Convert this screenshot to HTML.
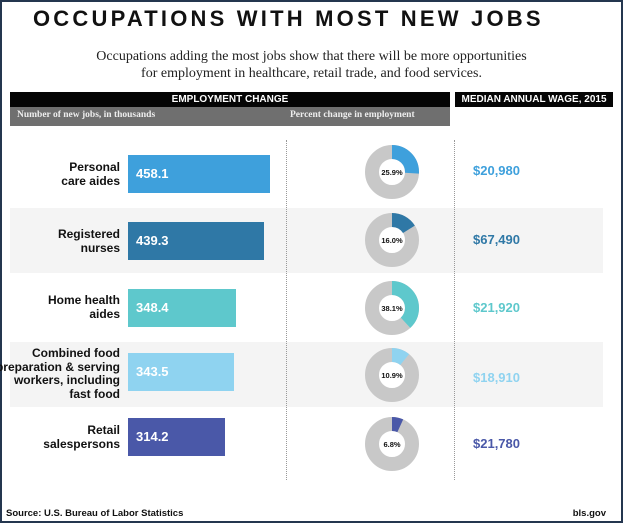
<!DOCTYPE html>
<html><head><style>
body{margin:0;width:623px;height:523px;overflow:hidden;background:#fff;font-family:"Liberation Sans",sans-serif}
.frame{position:absolute;left:0;top:0;width:619px;height:519px;border:2px solid #24364f;background:#fff}
.t{position:absolute;white-space:nowrap}
.bar{position:absolute;left:128px;height:38px;color:#fff;font-weight:bold;font-size:13px;line-height:38px;padding-left:8px;box-sizing:border-box}
.lab{position:absolute;right:503px;text-align:right;font-weight:bold;font-size:12px;line-height:13.5px;color:#111;white-space:nowrap}
.wage{position:absolute;left:473px;font-weight:bold;font-size:13px}
.rowbg{position:absolute;left:10px;width:593px;height:65px;background:#f4f4f4}
</style></head><body>
<div class="frame"></div>
<div class="t" style="left:33px;top:6px;font-size:22px;font-weight:bold;letter-spacing:3.2px;color:#111">OCCUPATIONS WITH MOST NEW JOBS</div>
<div class="t" style="left:0;width:623px;text-align:center;top:48px;font-family:'Liberation Serif',serif;font-size:14px;line-height:17px;color:#222">Occupations adding the most jobs show that there will be more opportunities<br>for employment in healthcare, retail trade, and food services.</div>
<div class="t" style="left:10px;top:92px;width:440px;height:15px;background:#050505;color:#fff;font-size:10px;font-weight:bold;text-align:center;line-height:15px">EMPLOYMENT CHANGE</div>
<div class="t" style="left:455px;top:92px;width:158px;height:15px;background:#050505;color:#fff;font-size:10px;font-weight:bold;text-align:center;line-height:15px">MEDIAN ANNUAL WAGE, 2015</div>
<div class="t" style="left:10px;top:107px;width:440px;height:19px;background:#6f6f6f;color:#eee;font-family:'Liberation Serif',serif;font-size:9.5px;font-weight:bold;line-height:17px">
<span style="position:absolute;left:7px">Number of new jobs, in thousands</span><span style="position:absolute;left:280px">Percent change in employment</span></div>
<div class="rowbg" style="top:208px"></div>
<div class="rowbg" style="top:342px"></div>
<div class="t" style="left:286px;top:140px;height:340px;border-left:1px dotted #999"></div>
<div class="t" style="left:454px;top:140px;height:340px;border-left:1px dotted #999"></div>

<div class="lab" style="top:161px">Personal<br>care aides</div>
<div class="bar" style="top:155px;width:142px;background:#3ea0dc">458.1</div>
<div class="wage" style="top:163px;color:#3ea0dc">$20,980</div>

<div class="lab" style="top:228px">Registered<br>nurses</div>
<div class="bar" style="top:222px;width:136px;background:#2f78a6">439.3</div>
<div class="wage" style="top:232px;color:#2f78a6">$67,490</div>

<div class="lab" style="top:294px">Home health<br>aides</div>
<div class="bar" style="top:289px;width:108px;background:#5ec8cc">348.4</div>
<div class="wage" style="top:300px;color:#5ec8cc">$21,920</div>

<div class="lab" style="top:347px">Combined food<br>preparation &amp; serving<br>workers, including<br>fast food</div>
<div class="bar" style="top:353px;width:106px;background:#8fd3f0">343.5</div>
<div class="wage" style="top:370px;color:#8fd3f0">$18,910</div>

<div class="lab" style="top:424px">Retail<br>salespersons</div>
<div class="bar" style="top:418px;width:97px;background:#4a58a8">314.2</div>
<div class="wage" style="top:436px;color:#4a58a8">$21,780</div>

<svg class="t" style="left:0;top:0" width="623" height="523">
<g font-family="Liberation Sans" font-size="7.5" font-weight="bold" text-anchor="middle" fill="#111">
<g transform="translate(392,172)"><circle r="20" fill="#fff" stroke="#c8c8c8" stroke-width="14"/><circle r="20" fill="none" stroke="#3ea0dc" stroke-width="14" stroke-dasharray="32.55 200" transform="rotate(-90)"/><text y="3">25.9%</text></g>
<g transform="translate(392,240)"><circle r="20" fill="#fff" stroke="#c8c8c8" stroke-width="14"/><circle r="20" fill="none" stroke="#2f78a6" stroke-width="14" stroke-dasharray="20.11 200" transform="rotate(-90)"/><text y="3">16.0%</text></g>
<g transform="translate(392,308)"><circle r="20" fill="#fff" stroke="#c8c8c8" stroke-width="14"/><circle r="20" fill="none" stroke="#5ec8cc" stroke-width="14" stroke-dasharray="47.88 200" transform="rotate(-90)"/><text y="3">38.1%</text></g>
<g transform="translate(392,375)"><circle r="20" fill="#fff" stroke="#c8c8c8" stroke-width="14"/><circle r="20" fill="none" stroke="#8fd3f0" stroke-width="14" stroke-dasharray="13.70 200" transform="rotate(-90)"/><text y="3">10.9%</text></g>
<g transform="translate(392,444)"><circle r="20" fill="#fff" stroke="#c8c8c8" stroke-width="14"/><circle r="20" fill="none" stroke="#4a58a8" stroke-width="14" stroke-dasharray="8.55 200" transform="rotate(-90)"/><text y="3">6.8%</text></g>
</g></svg>
<div class="t" style="left:6px;top:508px;font-size:9.5px;font-weight:bold;color:#111">Source: U.S. Bureau of Labor Statistics</div>
<div class="t" style="right:17px;top:508px;font-size:9.5px;font-weight:bold;color:#111">bls.gov</div>
</body></html>
